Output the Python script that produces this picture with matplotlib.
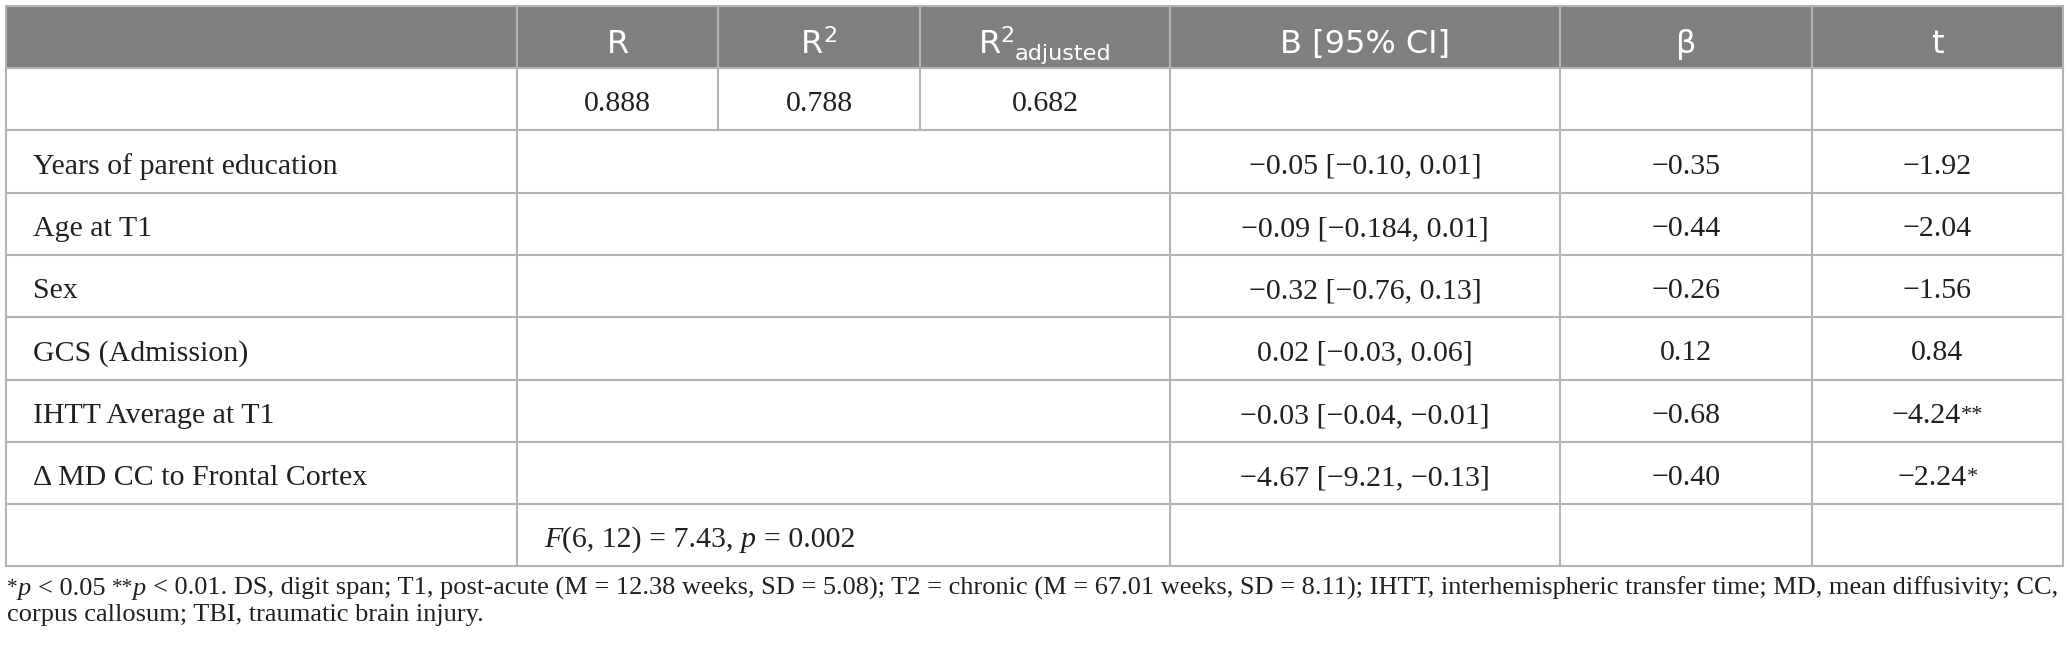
import matplotlib
matplotlib.use("Agg")
import matplotlib.pyplot as plt
from matplotlib.patches import Rectangle

# ---------------- data ----------------
header_labels = ["", "R", "R2", "R2adj", "B [95% CI]", "β", "t"]
model_stats = ["0.888", "0.788", "0.682"]
predictors = ["Years of parent education", "Age at T1", "Sex", "GCS (Admission)",
              "IHTT Average at T1", "Δ MD CC to Frontal Cortex"]
b_ci = ["−0.05 [−0.10, 0.01]", "−0.09 [−0.184, 0.01]", "−0.32 [−0.76, 0.13]",
        "0.02 [−0.03, 0.06]", "−0.03 [−0.04, −0.01]", "−4.67 [−9.21, −0.13]"]
beta = ["−0.35", "−0.44", "−0.26", "0.12", "−0.68", "−0.40"]
t_vals = ["−1.92", "−2.04", "−1.56", "0.84", "−4.24", "−2.24"]
t_sig = ["", "", "", "", "**", "*"]
f_stat = ("6, 12", "7.43", "0.002")
footnote_1 = ("DS, digit span; T1, post-acute (M = 12.38 weeks, SD = 5.08); T2 = chronic "
              "(M = 67.01 weeks, SD = 8.11); IHTT, interhemispheric transfer time; MD, mean "
              "diffusivity; CC,")
footnote_2 = "corpus callosum; TBI, traumatic brain injury."

# ---------------- layout ----------------
W, H = 2070, 658
col_edges = [6, 517, 718, 920, 1170, 1560, 1812, 2063]
row_edges = [6, 68, 130, 193, 255, 317, 380, 442, 504, 566]
LINE_C = "#b3b3b3"
HEAD_C = "#808080"
TXT_C = "#231f20"
SERIF = "Liberation Serif"
SANS = "DejaVu Sans"
BODY = 21.5
HEAD = 23
FOOT = 19

fig = plt.figure(figsize=(W / 100, H / 100), dpi=100)
ax = fig.add_axes([0, 0, 1, 1])
ax.set_xlim(0, W)
ax.set_ylim(H, 0)
ax.axis("off")
renderer = fig.canvas.get_renderer()


def props(family=SERIF, size=BODY, style="normal", color=TXT_C):
    return dict(family=family, size=size, style=style, color=color)


def ext(s, p):
    t = ax.text(0, 0, s, fontfamily=p["family"], fontsize=p["size"], fontstyle=p["style"])
    w = t.get_window_extent(renderer).width
    t.remove()
    return w


def adv(s, p):
    return ext("|" + s + "|", p) - ext("||", p)


def run(s, dy=0, **kw):
    return (s, dy, props(**kw))


def draw_runs(runs, x, y, ha="left"):
    widths = [adv(s, p) for s, dy, p in runs]
    total = sum(widths)
    if ha == "center":
        x -= total / 2
    for (s, dy, p), w in zip(runs, widths):
        lead = len(s) - len(s.lstrip(" "))
        xs = x + (adv(" " * lead, p) if lead else 0)
        if s.strip():
            ax.text(xs, y + dy, s.strip(), fontfamily=p["family"], fontsize=p["size"],
                    fontstyle=p["style"], color=p["color"], ha="left", va="baseline")
        x += w


# header background
ax.add_patch(Rectangle((col_edges[0], row_edges[0]), col_edges[-1] - col_edges[0],
                       row_edges[1] - row_edges[0], facecolor=HEAD_C, edgecolor="none", zorder=0))

LW = 1.5
for y in row_edges:
    ax.plot([col_edges[0], col_edges[-1]], [y, y], color=LINE_C, lw=LW, solid_capstyle="butt")
full = list(range(len(col_edges)))
merged = [0, 1, 4, 5, 6, 7]
for r in range(len(row_edges) - 1):
    idx = full if r < 2 else merged
    for i in idx:
        x = col_edges[i]
        ax.plot([x, x], [row_edges[r], row_edges[r + 1]], color=LINE_C, lw=LW,
                solid_capstyle="projecting")


def ctr(i):
    return (col_edges[i] + col_edges[i + 1]) / 2


def base(r, off=12):
    return (row_edges[r] + row_edges[r + 1]) / 2 + off


# header text
hp = dict(family=SANS, size=HEAD, color="white")
hs = dict(family=SANS, size=HEAD * 0.7, color="white")
hy = base(0, 16)
for i, lab in enumerate(header_labels):
    if not lab:
        continue
    if lab == "R2":
        runs = [run("R", **hp), run("2", dy=-11, **hs)]
    elif lab == "R2adj":
        runs = [run("R", **hp), run("2", dy=-11, **hs), run("adjusted", dy=7, **hs)]
    else:
        runs = [run(lab, **hp)]
    draw_runs(runs, ctr(i), hy, ha="center")

# model stats row
for j, v in enumerate(model_stats):
    draw_runs([run(v)], ctr(j + 1), base(1), ha="center")

# predictor rows
LX = 33
for k, name in enumerate(predictors):
    r = k + 2
    draw_runs([run(name)], LX, base(r))
    draw_runs([run(b_ci[k])], ctr(4), base(r), ha="center")
    draw_runs([run(beta[k])], ctr(5), base(r), ha="center")
    truns = [run(t_vals[k])]
    if t_sig[k]:
        truns.append(run(t_sig[k], dy=-3, size=BODY * 0.75))
    draw_runs(truns, ctr(6), base(r), ha="center")

# F row
rF = len(row_edges) - 2
draw_runs([run("F", style="italic"), run("(" + f_stat[0] + ") = " + f_stat[1] + ", "),
           run("p", style="italic"), run(" = " + f_stat[2])],
          col_edges[1] + 27, base(rF))

# footnote
fy1, fy2 = 595, 621
draw_runs([run("*", dy=-2, size=FOOT * 0.8), run("p", style="italic", size=FOOT),
           run(" < 0.05 ", size=FOOT), run("**", dy=-2, size=FOOT * 0.8),
           run("p", style="italic", size=FOOT), run(" < 0.01. " + footnote_1, size=FOOT)],
          7, fy1)
draw_runs([run(footnote_2, size=FOOT)], 7, fy2)

fig.savefig("out.png", dpi=100, facecolor="white")
